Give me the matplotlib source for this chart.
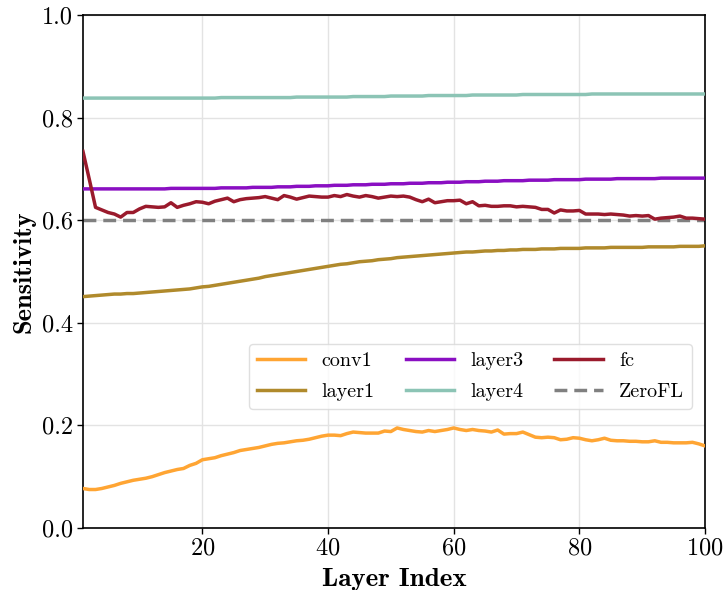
import matplotlib
matplotlib.use("Agg")
import matplotlib.pyplot as plt

x = list(range(1, 101))

conv1 = [0.077, 0.075, 0.075, 0.077, 0.080, 0.083, 0.087, 0.090, 0.093, 0.095,
         0.097, 0.100, 0.104, 0.108, 0.111, 0.114, 0.116, 0.122, 0.126, 0.133,
         0.135, 0.137, 0.141, 0.144, 0.147, 0.151, 0.153, 0.155, 0.157, 0.160,
         0.163, 0.165, 0.166, 0.168, 0.170, 0.171, 0.173, 0.176, 0.179, 0.181,
         0.181, 0.180, 0.184, 0.187, 0.186, 0.185, 0.185, 0.185, 0.189, 0.188,
         0.195, 0.192, 0.190, 0.188, 0.187, 0.190, 0.188, 0.190, 0.192, 0.195,
         0.192, 0.190, 0.192, 0.190, 0.189, 0.187, 0.191, 0.183, 0.184, 0.184,
         0.187, 0.182, 0.177, 0.176, 0.177, 0.176, 0.172, 0.173, 0.176, 0.175,
         0.172, 0.170, 0.172, 0.175, 0.171, 0.170, 0.170, 0.169, 0.169, 0.168,
         0.168, 0.170, 0.167, 0.167, 0.166, 0.166, 0.166, 0.167, 0.164, 0.160]

layer1 = [0.451, 0.452, 0.453, 0.454, 0.455, 0.456, 0.456, 0.457, 0.457, 0.458,
          0.459, 0.460, 0.461, 0.462, 0.463, 0.464, 0.465, 0.466, 0.468, 0.470,
          0.471, 0.473, 0.475, 0.477, 0.479, 0.481, 0.483, 0.485, 0.487, 0.490,
          0.492, 0.494, 0.496, 0.498, 0.500, 0.502, 0.504, 0.506, 0.508, 0.510,
          0.512, 0.514, 0.515, 0.517, 0.519, 0.520, 0.521, 0.523, 0.524, 0.525,
          0.527, 0.528, 0.529, 0.530, 0.531, 0.532, 0.533, 0.534, 0.535, 0.536,
          0.537, 0.538, 0.538, 0.539, 0.540, 0.540, 0.541, 0.541, 0.542, 0.542,
          0.543, 0.543, 0.543, 0.544, 0.544, 0.544, 0.545, 0.545, 0.545, 0.545,
          0.546, 0.546, 0.546, 0.546, 0.547, 0.547, 0.547, 0.547, 0.547, 0.547,
          0.548, 0.548, 0.548, 0.548, 0.548, 0.549, 0.549, 0.549, 0.549, 0.550]

layer3 = [0.661, 0.661, 0.661, 0.661, 0.661, 0.661, 0.661, 0.661, 0.661, 0.661,
          0.661, 0.661, 0.661, 0.661, 0.662, 0.662, 0.662, 0.662, 0.662, 0.662,
          0.662, 0.662, 0.663, 0.663, 0.663, 0.663, 0.663, 0.664, 0.664, 0.664,
          0.664, 0.665, 0.665, 0.665, 0.666, 0.666, 0.666, 0.667, 0.667, 0.667,
          0.668, 0.668, 0.668, 0.669, 0.669, 0.669, 0.670, 0.670, 0.670, 0.671,
          0.671, 0.671, 0.672, 0.672, 0.672, 0.673, 0.673, 0.673, 0.674, 0.674,
          0.674, 0.675, 0.675, 0.675, 0.676, 0.676, 0.676, 0.677, 0.677, 0.677,
          0.677, 0.678, 0.678, 0.678, 0.678, 0.679, 0.679, 0.679, 0.679, 0.679,
          0.680, 0.680, 0.680, 0.680, 0.680, 0.681, 0.681, 0.681, 0.681, 0.681,
          0.681, 0.681, 0.682, 0.682, 0.682, 0.682, 0.682, 0.682, 0.682, 0.682]

layer4 = [0.838, 0.838, 0.838, 0.838, 0.838, 0.838, 0.838, 0.838, 0.838, 0.838,
          0.838, 0.838, 0.838, 0.838, 0.838, 0.838, 0.838, 0.838, 0.838, 0.838,
          0.838, 0.838, 0.839, 0.839, 0.839, 0.839, 0.839, 0.839, 0.839, 0.839,
          0.839, 0.839, 0.839, 0.839, 0.840, 0.840, 0.840, 0.840, 0.840, 0.840,
          0.840, 0.840, 0.840, 0.841, 0.841, 0.841, 0.841, 0.841, 0.841, 0.842,
          0.842, 0.842, 0.842, 0.842, 0.842, 0.843, 0.843, 0.843, 0.843, 0.843,
          0.843, 0.843, 0.844, 0.844, 0.844, 0.844, 0.844, 0.844, 0.844, 0.844,
          0.845, 0.845, 0.845, 0.845, 0.845, 0.845, 0.845, 0.845, 0.845, 0.845,
          0.845, 0.846, 0.846, 0.846, 0.846, 0.846, 0.846, 0.846, 0.846, 0.846,
          0.846, 0.846, 0.846, 0.846, 0.846, 0.846, 0.846, 0.846, 0.846, 0.846]

fc = [0.734, 0.680, 0.625, 0.620, 0.615, 0.612, 0.606, 0.615, 0.615, 0.622,
      0.627, 0.626, 0.625, 0.626, 0.634, 0.625, 0.629, 0.632, 0.636, 0.635,
      0.632, 0.637, 0.640, 0.643, 0.636, 0.640, 0.642, 0.643, 0.644, 0.646,
      0.643, 0.640, 0.648, 0.645, 0.641, 0.644, 0.647, 0.646, 0.645, 0.645,
      0.648, 0.646, 0.650, 0.647, 0.645, 0.648, 0.646, 0.643, 0.645, 0.647,
      0.646, 0.647, 0.645, 0.640, 0.636, 0.641, 0.634, 0.636, 0.638, 0.638,
      0.639, 0.632, 0.636, 0.628, 0.629, 0.627, 0.627, 0.628, 0.628, 0.626,
      0.627, 0.626, 0.625, 0.621, 0.621, 0.614, 0.620, 0.618, 0.618, 0.619,
      0.612, 0.612, 0.612, 0.611, 0.612, 0.611, 0.610, 0.608, 0.609, 0.608,
      0.609, 0.602, 0.604, 0.605, 0.606, 0.608, 0.604, 0.604, 0.603, 0.602]

zerofl = 0.6

series_names = ["conv1", "layer1", "layer3", "layer4", "fc"]
series_vals = [conv1, layer1, layer3, layer4, fc]
colors = ["#FFA533", "#B08A2C", "#8A0FC2", "#8CC4B5", "#9A1A2C"]

plt.rcParams["font.family"] = "cmr10"
plt.rcParams["mathtext.fontset"] = "cm"
plt.rcParams["axes.formatter.use_mathtext"] = True

fig = plt.figure(figsize=(7.24, 5.9), dpi=100)
ax = fig.add_axes([0.1146, 0.1051, 0.8592, 0.8695])

handles = {}
for name, vals, c in zip(series_names, series_vals, colors):
    (h,) = ax.plot(x, vals, color=c, lw=2.5, label=name, zorder=3)
    handles[name] = h
hz = ax.axhline(zerofl, color="#808080", lw=2.5, ls=(0, (3.7, 2)), label="ZeroFL", zorder=2)
handles["ZeroFL"] = hz

ax.set_xlim(1, 100)
ax.set_ylim(0, 1.0)
ax.set_xticks([20, 40, 60, 80, 100])
ax.set_yticks([0.0, 0.2, 0.4, 0.6, 0.8, 1.0])
ax.set_yticklabels(["0.0", "0.2", "0.4", "0.6", "0.8", "1.0"])
ax.tick_params(labelsize=17.5, direction="out", length=4, width=1, pad=3)
ax.grid(True, color="#e3e3e3", lw=1)
ax.set_axisbelow(True)
for s in ax.spines.values():
    s.set_linewidth(1.2)
    s.set_color("black")

ax.set_ylabel("Sensitivity", fontsize=19, fontfamily="cmb10", labelpad=5)
ax.set_xlabel("Layer Index", fontsize=19.5, fontfamily="cmb10", labelpad=6)

order = ["conv1", "layer1", "layer3", "layer4", "fc", "ZeroFL"]
leg = ax.legend([handles[k] for k in order], order, ncol=3, fontsize=14.5,
                loc="lower right", bbox_to_anchor=(0.979, 0.232), borderaxespad=0,
                handlelength=2.4, handletextpad=0.8, columnspacing=1.55,
                labelspacing=0.65,
                frameon=True, fancybox=True, framealpha=0.8, edgecolor="#d8d8d8")
leg.get_frame().set_linewidth(1.0)

fig.savefig("out.png", dpi=100)
